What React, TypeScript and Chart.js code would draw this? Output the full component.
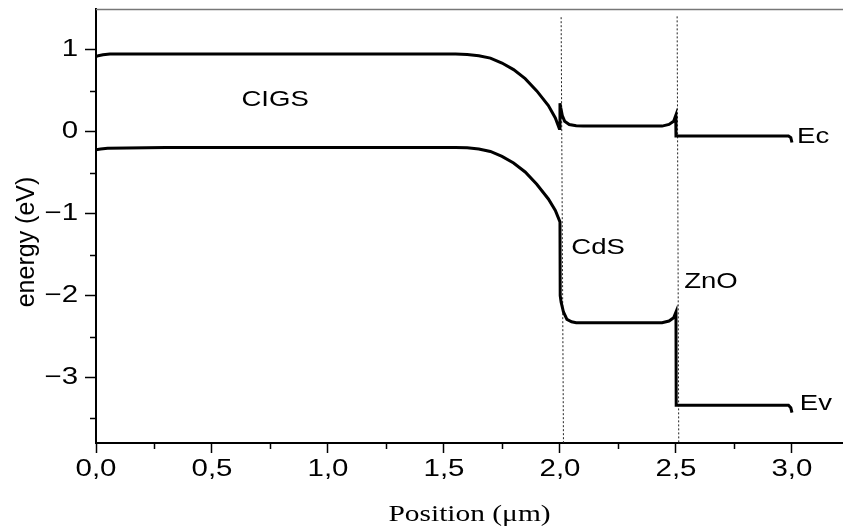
import React, { useEffect, useRef } from "react";
import { Chart, registerables } from "chart.js";

Chart.register(...registerables);

// Conduction band edge (Ec)
const ecPos = [0, 0.01, 0.03, 0.06, 0.2, 0.6, 1.0, 1.4, 1.55, 1.6, 1.65, 1.7, 1.75, 1.8, 1.85, 1.9, 1.95, 1.98, 1.997, 2.0, 2.003, 2.01, 2.02, 2.04, 2.07, 2.1, 2.3, 2.44, 2.47, 2.49, 2.499, 2.5, 2.52, 2.8, 2.985, 2.995, 3.0];
const ecVal = [0.92, 0.93, 0.94, 0.95, 0.95, 0.95, 0.95, 0.95, 0.95, 0.945, 0.93, 0.9, 0.84, 0.76, 0.65, 0.5, 0.32, 0.17, 0.04, 0.35, 0.3, 0.2, 0.13, 0.09, 0.075, 0.07, 0.07, 0.07, 0.09, 0.13, 0.2, -0.05, -0.05, -0.05, -0.05, -0.07, -0.13];

// Valence band edge (Ev)
const evPos = [0, 0.02, 0.05, 0.3, 0.6, 1.0, 1.4, 1.55, 1.6, 1.65, 1.7, 1.75, 1.8, 1.85, 1.9, 1.95, 1.98, 2.0, 2.001, 2.005, 2.015, 2.03, 2.05, 2.07, 2.3, 2.44, 2.47, 2.49, 2.5, 2.501, 2.52, 2.8, 2.985, 2.995, 3.0];
const evVal = [-0.22, -0.21, -0.2, -0.19, -0.19, -0.19, -0.19, -0.19, -0.195, -0.21, -0.24, -0.3, -0.38, -0.49, -0.64, -0.82, -0.96, -1.1, -2.0, -2.08, -2.2, -2.29, -2.32, -2.33, -2.33, -2.33, -2.31, -2.27, -2.2, -3.34, -3.34, -3.34, -3.34, -3.37, -3.43];

// Layer interfaces (dotted guide lines): top / bottom positions
const interface1X = [2.005, 2.015];
const interface1Y = [1.4, -3.8];
const interface2X = [2.505, 2.512];
const interface2Y = [1.41, -3.8];

// Axis ticks
const xTicks = [0, 0.5, 1, 1.5, 2, 2.5, 3];
const yTicks = [-3, -2, -1, 0, 1];
const xMinor = [0.25, 0.75, 1.25, 1.75, 2.25, 2.75];
const yMinor = [-3.5, -2.5, -1.5, -0.5, 0.5];

// Text labels inside the plot
const labelTexts = ["CIGS", "CdS", "ZnO", "Ec", "Ev"];
const labelX = [0.772, 2.164, 2.651, 3.022, 3.034];
const labelY = [0.39, -1.415, -1.84, -0.06, -3.33];
const labelAlign = ["center", "center", "center", "left", "left"];

const TEXT_STRETCH = 1.28;
const SANS = '"Liberation Sans", Arial, sans-serif';
const SERIF = '"Liberation Serif", "Times New Roman", serif';

const toPts = (xs: number[], ys: number[]) => xs.map((x, i) => ({ x, y: ys[i] }));

export default function App() {
  const ref = useRef<HTMLCanvasElement | null>(null);

  useEffect(() => {
    const canvas = ref.current;
    if (!canvas) return;
    const protoFill = CanvasRenderingContext2D.prototype.fillText;

    const drawStretched = (ctx: CanvasRenderingContext2D, text: string, x: number, y: number) => {
      ctx.save();
      ctx.translate(x, y);
      ctx.scale(TEXT_STRETCH, 1);
      protoFill.call(ctx, text, 0, 0);
      ctx.restore();
    };

    const extras = {
      id: "extras",
      beforeDraw(chart: any) {
        const ctx = chart.ctx;
        ctx.fillText = function (text: string, x: number, y: number, maxWidth?: number) {
          this.save();
          this.translate(x, y);
          this.scale(TEXT_STRETCH, 1);
          if (maxWidth !== undefined && maxWidth !== null) protoFill.call(this, text, 0, 0, maxWidth / TEXT_STRETCH);
          else protoFill.call(this, text, 0, 0);
          this.restore();
        };
      },
      afterDraw(chart: any) {
        const ctx = chart.ctx;
        delete ctx.fillText;
        const xs = chart.scales.x;
        const ys = chart.scales.y;
        const a = chart.chartArea;
        ctx.save();
        // minor ticks
        ctx.strokeStyle = "#000";
        ctx.lineWidth = 1.5;
        ctx.beginPath();
        yMinor.forEach((v) => {
          const p = Math.round(ys.getPixelForValue(v)) + 0.5;
          ctx.moveTo(a.left - 6, p);
          ctx.lineTo(a.left, p);
        });
        xMinor.forEach((v) => {
          const p = Math.round(xs.getPixelForValue(v)) + 0.5;
          ctx.moveTo(p, a.bottom);
          ctx.lineTo(p, a.bottom + 6);
        });
        ctx.stroke();
        // top frame
        ctx.strokeStyle = "#777";
        ctx.lineWidth = 1.5;
        ctx.beginPath();
        ctx.moveTo(a.left, a.top + 0.5);
        ctx.lineTo(a.right, a.top + 0.5);
        ctx.stroke();
        // labels
        ctx.fillStyle = "#000";
        ctx.font = "21.5px " + SANS;
        ctx.textBaseline = "middle";
        labelTexts.forEach((t, i) => {
          ctx.textAlign = labelAlign[i] as CanvasTextAlign;
          drawStretched(ctx, t, xs.getPixelForValue(labelX[i]), ys.getPixelForValue(labelY[i]));
        });
        // y axis title
        ctx.save();
        ctx.translate(27, 242);
        ctx.rotate(-Math.PI / 2);
        ctx.textAlign = "center";
        ctx.font = "25px " + SANS;
        ctx.fillText("energy (eV)", 0, 0);
        ctx.restore();
        ctx.restore();
      },
    };

    const chart = new Chart(canvas, {
      type: "line",
      data: {
        datasets: [
          { data: toPts(ecPos, ecVal), borderColor: "#000", borderWidth: 3, pointRadius: 0, tension: 0, order: 1 },
          { data: toPts(evPos, evVal), borderColor: "#000", borderWidth: 3, pointRadius: 0, tension: 0, order: 1 },
          { data: toPts(interface1X, interface1Y), borderColor: "#222", borderWidth: 1, borderDash: [2, 2], pointRadius: 0, order: 2 },
          { data: toPts(interface2X, interface2Y), borderColor: "#222", borderWidth: 1, borderDash: [2, 2], pointRadius: 0, order: 2 },
        ],
      },
      options: {
        animation: false,
        responsive: false,
        devicePixelRatio: 1,
        layout: { padding: { top: 9, right: 0, left: 0, bottom: 0 } },
        plugins: {
          legend: { display: false },
          tooltip: { enabled: false },
        },
        scales: {
          x: {
            type: "linear",
            min: 0,
            max: 3.22,
            afterFit: (s: any) => {
              s.height = 88;
              s.paddingLeft = 0;
              s.paddingRight = 0;
            },
            afterBuildTicks: (s: any) => {
              s.ticks = xTicks.map((v) => ({ value: v }));
            },
            ticks: {
              color: "#000",
              font: { family: SANS, size: 23 },
              padding: 3,
              maxRotation: 0,
              autoSkip: false,
              callback: (v: any) => Number(v).toFixed(1).replace(".", ","),
            },
            grid: { drawOnChartArea: false, drawTicks: true, tickLength: 10, tickWidth: 1.5, tickColor: "#000" },
            border: { display: true, color: "#000", width: 2 },
            title: {
              display: true,
              text: "Position (\u03bcm)",
              color: "#000",
              font: { family: SERIF, size: 23 },
              padding: { top: 0, bottom: 2 },
            },
          },
          y: {
            type: "linear",
            min: -3.8,
            max: 1.5,
            afterFit: (s: any) => {
              s.width = 96;
              s.paddingTop = 0;
              s.paddingBottom = 0;
            },
            afterBuildTicks: (s: any) => {
              s.ticks = yTicks.map((v) => ({ value: v }));
            },
            ticks: {
              color: "#000",
              font: { family: SANS, size: 23 },
              padding: 7,
              autoSkip: false,
              callback: (v: any) => String(v).replace("-", "\u2212"),
            },
            grid: { drawOnChartArea: false, drawTicks: true, tickLength: 11, tickWidth: 1.5, tickColor: "#000" },
            border: { display: true, color: "#000", width: 2 },
          },
        },
      },
      plugins: [extras],
    } as any);

    return () => chart.destroy();
  }, []);

  return (
    <div style={{ position: "absolute", left: 0, top: 0, width: 843, height: 531, background: "#fff" }}>
      <canvas ref={ref} width={843} height={531} />
    </div>
  );
}
